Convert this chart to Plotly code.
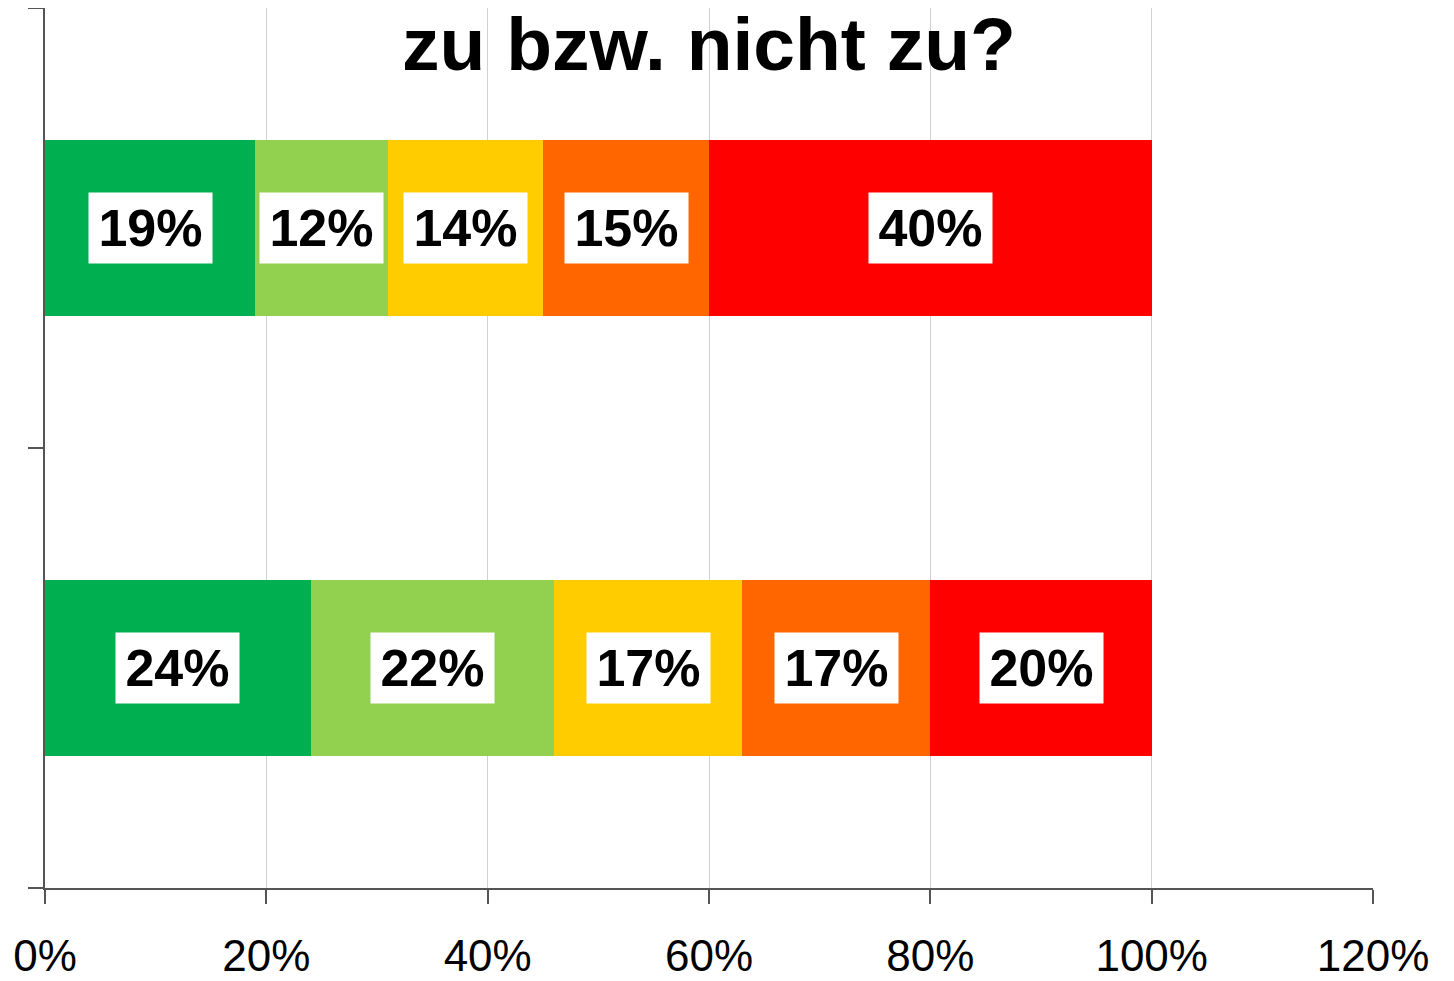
import plotly.graph_objects as go

rows = [1, 0]  # top row, bottom row (numeric y positions)
series_names = ["trifft voll zu", "trifft eher zu", "teils/teils", "trifft eher nicht zu", "trifft gar nicht zu"]
colors = ["#00B050", "#92D050", "#FFCC00", "#FF6600", "#FF0000"]
values = [
    [19, 24],
    [12, 22],
    [14, 17],
    [15, 17],
    [40, 20],
]
x_ticks = [0, 20, 40, 60, 80, 100, 120]
x_tick_labels = ["0%", "20%", "40%", "60%", "80%", "100%", "120%"]
title_text = "zu bzw. nicht zu?"

FONT = "Liberation Sans, Arial, sans-serif"

fig = go.Figure()
for name, col, vals in zip(series_names, colors, values):
    fig.add_trace(go.Bar(
        name=name, x=vals, y=rows, orientation="h",
        marker=dict(color=col, line=dict(width=0)),
        width=0.4, showlegend=False, hoverinfo="x+name",
    ))

annotations = []
for j, yv in enumerate(rows):
    cum = 0
    for vals in values:
        v = vals[j]
        annotations.append(dict(
            x=cum + v / 2, y=yv, xref="x", yref="y",
            text=f"<b>{v}%</b>", showarrow=False,
            font=dict(family=FONT, size=52, color="black"),
            bgcolor="white", borderpad=2, width=119, height=66,
            xanchor="center", yanchor="middle",
        ))
        cum += v

annotations.append(dict(
    x=0.5, y=0.959, xref="paper", yref="paper",
    text=f"<b>{title_text}</b>", showarrow=False,
    font=dict(family=FONT, size=75, color="black"),
    xanchor="center", yanchor="middle",
))

fig.update_layout(
    barmode="stack",
    width=1454, height=981,
    margin=dict(l=37, r=89, t=0, b=101, autoexpand=False),
    paper_bgcolor="white", plot_bgcolor="white",
    annotations=annotations,
    font=dict(family=FONT, color="black"),
)
fig.update_xaxes(
    range=[0, 120], tickvals=x_ticks, ticktext=x_tick_labels,
    showgrid=True, gridcolor="#D0D0D0", gridwidth=1,
    showline=True, linecolor="#555555", linewidth=1.5,
    ticks="outside", ticklen=14, tickcolor="#555555", tickwidth=1.5,
    tickfont=dict(family=FONT, size=44, color="black"),
    ticklabelstandoff=14,
    zeroline=False, fixedrange=True, automargin=False,
)
fig.update_yaxes(
    range=[-0.5, 1.5], tickvals=[-0.5, 0.5, 1.5], ticktext=["", "", ""],
    showgrid=False, showline=True, linecolor="#555555", linewidth=1.5,
    ticks="outside", ticklen=15, tickcolor="#555555", tickwidth=1.5,
    zeroline=False, fixedrange=True, automargin=False,
)

fig.write_html("out.html")
